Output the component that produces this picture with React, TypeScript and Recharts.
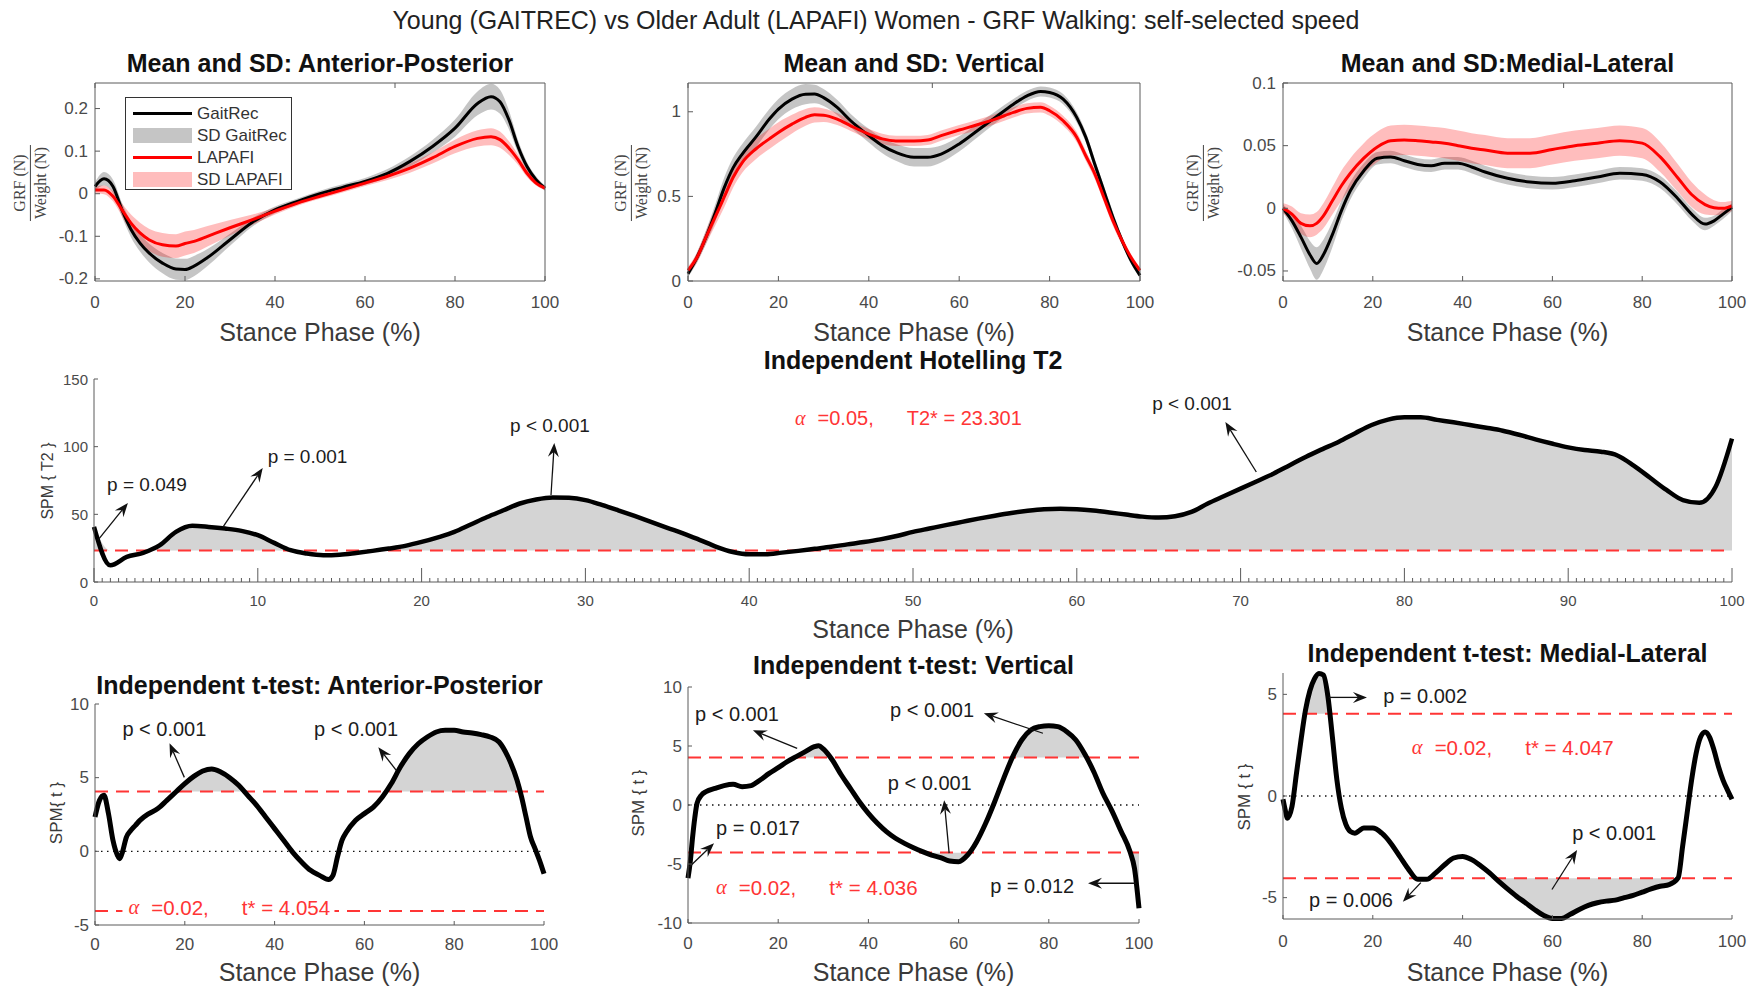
import React from 'react';
import { ComposedChart, Line, Area, XAxis, YAxis, ReferenceLine } from 'recharts';

const SANS = '"Liberation Sans", Arial, Helvetica, sans-serif';
const SERIF = '"Liberation Serif", "DejaVu Serif", "Times New Roman", serif';
const AXIS = '#5a5a5a';
const TICK_TXT = '#4a4a4a';
const RED = '#ff0000';
const NOTE_RED = '#ff3535';
const GAIT_BAND = '#a6a6a6';
const GAIT_BAND_OP = 0.65;
const LAP_BAND = '#ff0000';
const LAP_BAND_OP = 0.26;
const SPM_FILL = '#d4d4d4';

// ---- mean and SD of normalised GRF, anterior-posterior ----
const apX = [0, 2, 4, 6, 8, 10, 12, 15, 18, 20, 22, 25, 30, 35, 40, 45, 50, 55, 60, 65, 70, 75, 80, 85, 88, 90, 92, 94, 96, 98, 100];
const apGait = [0.017, 0.035, 0.017, -0.038, -0.084, -0.116, -0.139, -0.163, -0.177, -0.178, -0.17, -0.15, -0.108, -0.067, -0.038, -0.018, 0, 0.015, 0.029, 0.048, 0.076, 0.111, 0.154, 0.212, 0.228, 0.216, 0.173, 0.111, 0.064, 0.033, 0.013];
const apGaitSd = [0.01, 0.016, 0.016, 0.016, 0.018, 0.02, 0.022, 0.024, 0.025, 0.025, 0.024, 0.02, 0.014, 0.01, 0.008, 0.007, 0.007, 0.007, 0.008, 0.01, 0.012, 0.015, 0.02, 0.028, 0.03, 0.028, 0.022, 0.015, 0.01, 0.008, 0.006];
const apLap = [0.009, 0.009, -0.006, -0.038, -0.069, -0.092, -0.108, -0.12, -0.123, -0.117, -0.112, -0.1, -0.08, -0.061, -0.041, -0.022, -0.006, 0.009, 0.025, 0.041, 0.06, 0.084, 0.111, 0.13, 0.134, 0.127, 0.107, 0.08, 0.048, 0.025, 0.013];
const apLapSd = [0.008, 0.01, 0.012, 0.015, 0.02, 0.024, 0.026, 0.028, 0.028, 0.028, 0.027, 0.024, 0.018, 0.012, 0.008, 0.006, 0.006, 0.006, 0.007, 0.009, 0.011, 0.013, 0.016, 0.019, 0.02, 0.019, 0.016, 0.012, 0.009, 0.006, 0.005];

// ---- vertical ----
const vX = [0, 2, 4, 6, 8, 10, 12, 15, 18, 20, 23, 26, 28, 30, 33, 36, 40, 43, 46, 50, 53, 56, 60, 64, 68, 72, 75, 78, 80, 83, 86, 88, 90, 92, 94, 96, 98, 100];
const vGait = [0.043, 0.14, 0.26, 0.4, 0.55, 0.67, 0.75, 0.85, 0.957, 1.016, 1.075, 1.104, 1.105, 1.084, 1.026, 0.947, 0.859, 0.8, 0.76, 0.731, 0.731, 0.75, 0.81, 0.888, 0.967, 1.045, 1.094, 1.12, 1.114, 1.075, 0.967, 0.85, 0.69, 0.534, 0.377, 0.24, 0.122, 0.033];
const vGaitSd = [0.02, 0.03, 0.04, 0.05, 0.06, 0.06, 0.06, 0.06, 0.06, 0.06, 0.06, 0.06, 0.055, 0.05, 0.045, 0.04, 0.04, 0.045, 0.05, 0.055, 0.055, 0.05, 0.045, 0.04, 0.035, 0.03, 0.03, 0.03, 0.03, 0.03, 0.03, 0.03, 0.03, 0.03, 0.03, 0.025, 0.02, 0.015];
const vLap = [0.063, 0.14, 0.26, 0.377, 0.495, 0.613, 0.7, 0.78, 0.84, 0.878, 0.927, 0.967, 0.982, 0.98, 0.957, 0.917, 0.868, 0.84, 0.828, 0.828, 0.833, 0.859, 0.892, 0.923, 0.957, 0.996, 1.02, 1.026, 1.006, 0.947, 0.85, 0.74, 0.633, 0.495, 0.357, 0.24, 0.14, 0.063];
const vLapSd = [0.02, 0.03, 0.04, 0.05, 0.06, 0.06, 0.06, 0.06, 0.06, 0.06, 0.055, 0.05, 0.045, 0.04, 0.035, 0.03, 0.03, 0.03, 0.03, 0.03, 0.03, 0.03, 0.03, 0.03, 0.03, 0.03, 0.03, 0.03, 0.03, 0.03, 0.03, 0.03, 0.03, 0.03, 0.03, 0.025, 0.02, 0.015];

// ---- medial-lateral ----
const mlX = [0, 2, 4, 6, 7.5, 9, 11, 13, 15, 18, 21, 24, 27, 30, 33, 36, 39, 42, 45, 50, 55, 60, 65, 70, 75, 80, 84, 88, 91, 94, 96, 98, 100];
const mlGait = [0, -0.01, -0.023, -0.037, -0.044, -0.037, -0.021, -0.002, 0.014, 0.03, 0.04, 0.041, 0.038, 0.035, 0.034, 0.036, 0.036, 0.033, 0.029, 0.024, 0.021, 0.02, 0.022, 0.025, 0.028, 0.027, 0.021, 0.0075, -0.0046, -0.0126, -0.01, -0.0046, 0.0008];
const mlGaitSd = [0.003, 0.006, 0.009, 0.011, 0.013, 0.012, 0.01, 0.008, 0.007, 0.006, 0.005, 0.005, 0.005, 0.005, 0.005, 0.005, 0.005, 0.005, 0.005, 0.005, 0.005, 0.005, 0.005, 0.005, 0.005, 0.005, 0.005, 0.005, 0.005, 0.005, 0.004, 0.004, 0.003];
const mlLap = [0, -0.0046, -0.012, -0.014, -0.012, -0.006, 0.006, 0.018, 0.028, 0.04, 0.049, 0.054, 0.0546, 0.054, 0.053, 0.052, 0.05, 0.048, 0.0465, 0.044, 0.044, 0.047, 0.05, 0.052, 0.054, 0.052, 0.041, 0.024, 0.011, 0.003, 0.0005, 0, 0.002];
const mlLapSd = [0.004, 0.006, 0.008, 0.009, 0.009, 0.01, 0.011, 0.012, 0.012, 0.012, 0.012, 0.012, 0.012, 0.012, 0.012, 0.012, 0.012, 0.012, 0.012, 0.012, 0.012, 0.012, 0.012, 0.012, 0.012, 0.012, 0.012, 0.011, 0.01, 0.008, 0.006, 0.005, 0.004];

// ---- SPM{T2}, Hotelling test, one sample per percent of stance ----
const t2Val = [
  40.7, 12.3, 18.5, 21.5, 27, 37, 41.5, 40.7, 39.5, 37.8,
  34.6, 28.9, 23.5, 21, 19.8, 20.2, 21.5, 23, 24.7, 26.7,
  29.6, 33, 37, 42.5, 48, 53, 58, 61, 62.5, 62.2,
  60.5, 57, 53, 48.8, 44.4, 40, 35.8, 31, 26, 22.2,
  20.5, 20.5, 21.7, 23, 24.5, 26, 27.8, 29.5, 31.5, 34,
  37, 39.5, 42, 44.4, 46.8, 49, 51, 52.6, 53.8, 54.2,
  53.8, 52.8, 51.4, 49.8, 48.3, 47.6, 48.6, 51.8, 58, 63.5,
  69, 74.5, 80, 86.3, 92.6, 98.2, 103.7, 110, 116, 120,
  121.7, 121.7, 119.8, 118, 116, 114, 111.8, 108.8, 105.4, 102.3,
  99.5, 97.5, 96.3, 93.5, 86, 77, 68, 60.5, 58.5, 70.4,
  106,
];
const t2X = t2Val.map((_, i) => i);
const t2Crit = 23.301;

// ---- SPM{t}, post-hoc t-tests ----
const tApX = [0, 1, 2, 3, 4, 5, 5.5, 6, 7, 8, 9, 10, 12, 14, 16, 18, 20, 22, 24, 26, 28, 30, 32, 34, 36, 38, 40, 42, 44, 46, 48, 50, 52, 53, 54, 55, 56, 58, 60, 62, 64, 66, 68, 70, 72, 74, 76, 78, 80, 82, 84, 86, 88, 90, 92, 94, 95, 96, 97, 98, 99, 100];
const tApVal = [2.33, 3.46, 3.8, 2.56, 0.75, -0.27, -0.5, -0.16, 0.97, 1.43, 1.76, 2.1, 2.56, 2.9, 3.46, 4.03, 4.6, 5.09, 5.45, 5.59, 5.38, 5.0, 4.48, 3.8, 3.12, 2.33, 1.54, 0.75, -0.05, -0.72, -1.29, -1.63, -1.92, -1.63, -0.38, 0.75, 1.31, 2.1, 2.56, 3.0, 3.69, 4.6, 5.72, 6.63, 7.3, 7.76, 8.1, 8.21, 8.21, 8.1, 8.03, 7.92, 7.76, 7.42, 6.4, 4.82, 3.69, 2.33, 0.97, 0.18, -0.61, -1.52];
const tApCrit = 4.054;

const tVX = [0, 0.5, 1, 1.5, 2, 3, 4, 6, 8, 10, 12, 14, 16, 18, 20, 22, 24, 26, 28, 29, 30, 32, 34, 36, 38, 40, 42, 44, 46, 48, 50, 52, 54, 56, 58, 60, 62, 64, 66, 68, 70, 72, 74, 76, 78, 80, 82, 84, 86, 88, 90, 92, 94, 96, 98, 99, 100];
const tVVal = [-6.2, -4.8, -2.8, -1.1, 0.14, 0.85, 1.13, 1.41, 1.64, 1.75, 1.55, 1.64, 2.12, 2.68, 3.16, 3.67, 4.1, 4.52, 4.94, 5.03, 4.75, 3.81, 2.54, 1.41, 0.28, -0.71, -1.55, -2.26, -2.82, -3.25, -3.62, -3.95, -4.24, -4.46, -4.75, -4.8, -4.24, -3.11, -1.55, 0.28, 2.26, 4.1, 5.51, 6.36, 6.64, 6.72, 6.64, 6.21, 5.51, 4.3, 2.8, 1.0, -0.5, -2.2, -3.95, -5.37, -8.76];
const tVCrit = 4.036;

const tMlX = [0, 0.5, 1, 2, 3, 4, 5, 6, 7, 8, 9, 10, 11, 12, 13, 14, 15, 16, 17, 18, 20, 22, 24, 26, 28, 30, 32, 34, 36, 38, 40, 42, 44, 46, 48, 50, 52, 54, 56, 58, 60, 62, 64, 66, 68, 70, 72, 74, 76, 78, 80, 82, 84, 86, 88, 89, 90, 91, 92, 93, 94, 95, 96, 97, 98, 99, 100];
const tMlVal = [-0.16, -0.69, -1.09, -0.52, 1.11, 2.74, 4.21, 5.19, 5.76, 6.03, 5.95, 4.9, 2.9, 0.8, -0.6, -1.4, -1.75, -1.83, -1.7, -1.58, -1.58, -1.83, -2.32, -2.97, -3.62, -4.1, -4.1, -3.78, -3.38, -3.05, -2.97, -3.13, -3.43, -3.78, -4.19, -4.57, -4.93, -5.25, -5.58, -5.87, -6.03, -6.03, -5.82, -5.58, -5.38, -5.25, -5.17, -5.12, -5.0, -4.89, -4.73, -4.57, -4.44, -4.36, -4.03, -2.48, -0.85, 0.78, 2.09, 2.9, 3.15, 2.9, 2.25, 1.44, 0.78, 0.29, -0.16];
const tMlCrit = 4.047;

// ---- axis ticks ----
const stanceTicks = [0, 20, 40, 60, 80, 100];
const t2MajorTicks = [0, 10, 20, 30, 40, 50, 60, 70, 80, 90, 100];
const t2AllTicks = Array.from({ length: 201 }, (_, i) => i / 2);

// ---- cluster annotations: label position, arrow tail, arrow head (data units) ----
type Note = { text: string; at: [number, number]; tail?: [number, number]; head?: [number, number] };
const t2Notes: Note[] = [
  { text: 'p = 0.049', at: [0.8, 71.7], tail: [0.24, 31], head: [2.07, 58.4] },
  { text: 'p = 0.001', at: [10.6, 92.4], tail: [7.87, 40.6], head: [10.3, 84.2] },
  { text: 'p < 0.001', at: [25.4, 116], tail: [27.9, 64.3], head: [28.1, 102.7] },
  { text: 'p < 0.001', at: [64.6, 132], tail: [70.96, 81.3], head: [69.07, 118.2] },
];
const tApNotes: Note[] = [
  { text: 'p < 0.001', at: [6.1, 8.28], tail: [19.9, 5.02], head: [16.6, 7.33] },
  { text: 'p < 0.001', at: [48.8, 8.28], tail: [67.1, 5.5], head: [63.1, 7.06] },
];
const tVNotes: Note[] = [
  { text: 'p < 0.001', at: [1.55, 7.69], tail: [24.2, 4.8], head: [14.4, 6.33] },
  { text: 'p < 0.001', at: [44.8, 8.03], tail: [78.7, 6.08], head: [65.6, 7.77] },
  { text: 'p < 0.001', at: [44.3, 1.84], tail: [57.9, -4.08], head: [56.8, 0.4] },
  { text: 'p = 0.017', at: [6.2, -1.97], tail: [0.22, -5.27], head: [5.77, -3.24] },
  { text: 'p = 0.012', at: [67.0, -6.88], tail: [99.3, -6.63], head: [88.7, -6.63] },
];
const tMlNotes: Note[] = [
  { text: 'p = 0.002', at: [22.3, 4.9], tail: [10.2, 4.85], head: [18.7, 4.85] },
  { text: 'p < 0.001', at: [64.4, -1.81], tail: [59.9, -4.6], head: [65.5, -2.65] },
  { text: 'p = 0.006', at: [5.8, -5.1], tail: [30.7, -4.26], head: [26.7, -5.2] },
];

type Rect = { l: number; t: number; r: number; b: number };
const PAD = { left: 80, top: 14, right: 18, bottom: 44 };

// axes get a 1px band (a zero-sized axis is not drawn), taken out of the margin
function frame(plot: Rect, boxed: boolean) {
  return {
    style: { position: 'absolute' as const, left: plot.l - PAD.left, top: plot.t - PAD.top },
    width: plot.r - plot.l + PAD.left + PAD.right,
    height: plot.b - plot.t + PAD.top + PAD.bottom,
    margin: {
      left: PAD.left - 1,
      top: PAD.top - (boxed ? 1 : 0),
      right: PAD.right - (boxed ? 1 : 0),
      bottom: PAD.bottom - 1,
    },
  };
}

// inward tick marks drawn by hand, labels optional
const bottomTick = (len: number, dy: number, size: number, isMajor: (v: number) => boolean = () => true, minorLen = 0) =>
  (p: any) => {
    const v = p.payload.value;
    const major = isMajor(v);
    return (
      <g>
        <line x1={p.x} x2={p.x} y1={p.y} y2={p.y - (major ? len : minorLen)} stroke={AXIS} strokeWidth={1} />
        {major && (
          <text x={p.x} y={p.y + dy} textAnchor="middle" dominantBaseline="central" fontSize={size} fontFamily={SANS} fill={TICK_TXT}>
            {String(v)}
          </text>
        )}
      </g>
    );
  };
const leftTick = (len: number, gap: number, size: number) => (p: any) => (
  <g>
    <line x1={p.x} x2={p.x + len} y1={p.y} y2={p.y} stroke={AXIS} strokeWidth={1} />
    <text x={p.x - gap} y={p.y} textAnchor="end" dominantBaseline="central" fontSize={size} fontFamily={SANS} fill={TICK_TXT}>
      {String(p.payload.value)}
    </text>
  </g>
);
const topTick = (len: number) => (p: any) => (
  <line x1={p.x} x2={p.x} y1={p.y} y2={p.y + len} stroke={AXIS} strokeWidth={1} />
);
const rightTick = (len: number) => (p: any) => (
  <line x1={p.x} x2={p.x - len} y1={p.y} y2={p.y} stroke={AXIS} strokeWidth={1} />
);

const arrowShape = (p: any) => {
  const { x1, y1, x2, y2 } = p;
  const a = Math.atan2(y2 - y1, x2 - x1);
  const c = Math.cos(a);
  const s = Math.sin(a);
  const len = 14;
  const half = 5.5;
  const notch = 9;
  const bx = x2 - len * c;
  const by = y2 - len * s;
  const pts = [
    [x2, y2],
    [bx - half * s, by + half * c],
    [x2 - notch * c, y2 - notch * s],
    [bx + half * s, by - half * c],
  ]
    .map((q) => q.join(','))
    .join(' ');
  return (
    <g>
      <line x1={x1} y1={y1} x2={x2 - notch * c} y2={y2 - notch * s} stroke="#111" strokeWidth={1.3} />
      <polygon points={pts} fill="#111" />
    </g>
  );
};

const noteShape = (text: string, size: number) => (p: any) => (
  <text x={p.x1} y={p.y1} dominantBaseline="central" fontSize={size} fontFamily={SANS} fill="#1c1c1c">
    {text}
  </text>
);

const statShape = (alpha: string, name: string, value: number, size: number, bg: number) => (p: any) => (
  <g>
    {bg > 0 && <rect x={p.x1 - 6} y={p.y1 - size * 0.6} width={bg} height={size * 1.2} fill="#fff" />}
    <text x={p.x1} y={p.y1} dominantBaseline="central" fontSize={size} fontFamily={SANS} fill={NOTE_RED}>
      <tspan fontFamily={SERIF} fontStyle="italic">α</tspan>
      <tspan dx={12}>={alpha},</tspan>
      <tspan dx={33}>
        {name} = {value.toFixed(3)}
      </tspan>
    </text>
  </g>
);

function MeanPanel(props: {
  plot: Rect;
  xs: number[];
  gait: number[];
  gaitSd: number[];
  lap: number[];
  lapSd: number[];
  yDomain: [number, number];
  yTicks: number[];
}) {
  const { plot, xs, gait, gaitSd, lap, lapSd, yDomain, yTicks } = props;
  const data = xs.map((x, i) => ({
    x,
    gait: gait[i],
    lap: lap[i],
    gaitBand: [gait[i] - gaitSd[i], gait[i] + gaitSd[i]],
    lapBand: [lap[i] - lapSd[i], lap[i] + lapSd[i]],
  }));
  const f = frame(plot, true);
  return (
    <div style={f.style}>
      <ComposedChart width={f.width} height={f.height} data={data} margin={f.margin}>
        <XAxis dataKey="x" type="number" domain={[0, 100]} ticks={stanceTicks} interval={0} height={1} tickSize={0} tickMargin={0} tickLine={false} axisLine={{ stroke: AXIS }} tick={bottomTick(5, 21, 17)} />
        <XAxis xAxisId="top" orientation="top" type="number" domain={[0, 100]} ticks={stanceTicks} interval={0} height={1} tickSize={0} tickMargin={0} tickLine={false} axisLine={{ stroke: AXIS }} tick={topTick(5)} />
        <YAxis type="number" domain={yDomain} ticks={yTicks} interval={0} width={1} tickSize={0} tickMargin={0} tickLine={false} axisLine={{ stroke: AXIS }} tick={leftTick(5, 7, 17)} />
        <YAxis yAxisId="right" orientation="right" type="number" domain={yDomain} ticks={yTicks} interval={0} width={1} tickSize={0} tickMargin={0} tickLine={false} axisLine={{ stroke: AXIS }} tick={rightTick(5)} />
        <Area dataKey="gaitBand" name="SD GaitRec" type="monotone" stroke="none" fill={GAIT_BAND} fillOpacity={GAIT_BAND_OP} dot={false} activeDot={false} isAnimationActive={false} />
        <Area dataKey="lapBand" name="SD LAPAFI" type="monotone" stroke="none" fill={LAP_BAND} fillOpacity={LAP_BAND_OP} dot={false} activeDot={false} isAnimationActive={false} />
        <Line dataKey="gait" name="GaitRec" type="monotone" stroke="#000" strokeWidth={3} dot={false} activeDot={false} isAnimationActive={false} />
        <Line dataKey="lap" name="LAPAFI" type="monotone" stroke={RED} strokeWidth={3} dot={false} activeDot={false} isAnimationActive={false} />
      </ComposedChart>
    </div>
  );
}

function SpmPanel(props: {
  plot: Rect;
  xs: number[];
  vals: number[];
  yDomain: [number, number];
  yTicks: number[];
  crit: number;
  twoSided: boolean;
  notes: Note[];
  stat: { at: [number, number]; alpha: string; name: string; bg: number };
  xTicks: number[];
  isMajor?: (v: number) => boolean;
  majorLen: number;
  minorLen?: number;
  tickFont: number;
  tickDy: number;
  noteFont: number;
  statFont: number;
  curveWidth: number;
}) {
  const { plot, xs, vals, yDomain, yTicks, crit, twoSided, notes, stat, xTicks, isMajor, majorLen, minorLen = 0, tickFont, tickDy, noteFont, statFont, curveWidth } = props;
  const data = xs.map((x, i) => {
    const v = vals[i];
    return { x, v, up: [crit, Math.max(v, crit)], dn: [Math.min(v, -crit), -crit] };
  });
  const f = frame(plot, false);
  return (
    <div style={f.style}>
      <ComposedChart width={f.width} height={f.height} data={data} margin={f.margin}>
        <XAxis dataKey="x" type="number" domain={[0, 100]} ticks={xTicks} interval={0} height={1} tickSize={0} tickMargin={0} tickLine={false} axisLine={{ stroke: AXIS }} tick={bottomTick(majorLen, tickDy, tickFont, isMajor, minorLen)} />
        <YAxis type="number" domain={yDomain} ticks={yTicks} interval={0} width={1} tickSize={0} tickMargin={0} tickLine={false} axisLine={{ stroke: AXIS }} tick={leftTick(4, 6, tickFont)} />
        <Area dataKey="up" type="monotone" stroke="none" fill={SPM_FILL} fillOpacity={1} dot={false} activeDot={false} isAnimationActive={false} />
        {twoSided && <Area dataKey="dn" type="monotone" stroke="none" fill={SPM_FILL} fillOpacity={1} dot={false} activeDot={false} isAnimationActive={false} />}
        {twoSided && <ReferenceLine y={0} stroke="#111" strokeWidth={1.3} strokeDasharray="1.5 4.5" />}
        <ReferenceLine y={crit} stroke={NOTE_RED} strokeWidth={2} strokeDasharray="13 8" />
        {twoSided && <ReferenceLine y={-crit} stroke={NOTE_RED} strokeWidth={2} strokeDasharray="13 8" />}
        <Line dataKey="v" type="monotone" stroke="#000" strokeWidth={curveWidth} strokeLinejoin="round" dot={false} activeDot={false} isAnimationActive={false} />
        <ReferenceLine
          segment={[{ x: stat.at[0], y: stat.at[1] }, { x: stat.at[0], y: stat.at[1] }]}
          ifOverflow="visible"
          shape={statShape(stat.alpha, stat.name, crit, statFont, stat.bg)}
        />
        {notes.map((n, i) => (
          <React.Fragment key={i}>
            {n.tail && n.head && (
              <ReferenceLine segment={[{ x: n.tail[0], y: n.tail[1] }, { x: n.head[0], y: n.head[1] }]} ifOverflow="visible" shape={arrowShape} />
            )}
            <ReferenceLine segment={[{ x: n.at[0], y: n.at[1] }, { x: n.at[0], y: n.at[1] }]} ifOverflow="visible" shape={noteShape(n.text, noteFont)} />
          </React.Fragment>
        ))}
      </ComposedChart>
    </div>
  );
}

function Txt(props: { x: number; y: number; size: number; bold?: boolean; color?: string; rotate?: boolean; children: React.ReactNode }) {
  const { x, y, size, bold, color = '#333', rotate, children } = props;
  return (
    <div
      style={{
        position: 'absolute',
        left: x,
        top: y,
        transform: rotate ? 'translate(-50%, -50%) rotate(-90deg)' : 'translate(-50%, -50%)',
        whiteSpace: 'nowrap',
        fontSize: size,
        fontWeight: bold ? 700 : 400,
        color,
        lineHeight: 1,
        fontFamily: SANS,
      }}
    >
      {children}
    </div>
  );
}

function Fraction({ x, y }: { x: number; y: number }) {
  return (
    <div
      style={{
        position: 'absolute',
        left: x,
        top: y,
        transform: 'translate(-50%, -50%) rotate(-90deg)',
        fontFamily: SERIF,
        fontSize: 16,
        color: '#444',
        textAlign: 'center',
        lineHeight: 1.1,
        whiteSpace: 'nowrap',
      }}
    >
      <div style={{ padding: '0 2px 1px' }}>GRF (N)</div>
      <div style={{ borderTop: '1.2px solid #444', padding: '1px 2px 0' }}>Weight (N)</div>
    </div>
  );
}

const legendItems = [
  { label: 'GaitRec', kind: 'line', color: '#000', opacity: 1 },
  { label: 'SD GaitRec', kind: 'patch', color: GAIT_BAND, opacity: GAIT_BAND_OP },
  { label: 'LAPAFI', kind: 'line', color: RED, opacity: 1 },
  { label: 'SD LAPAFI', kind: 'patch', color: LAP_BAND, opacity: LAP_BAND_OP },
];

function MeanLegend() {
  return (
    <div style={{ position: 'absolute', left: 125, top: 97, width: 167, height: 93, border: '1.2px solid #333', background: '#fff', boxSizing: 'border-box' }}>
      {legendItems.map((it, i) => (
        <div key={it.label} style={{ position: 'absolute', left: 0, top: 5 + i * 22, height: 20, width: '100%' }}>
          <div
            style={{
              position: 'absolute',
              left: 7,
              width: 59,
              top: it.kind === 'line' ? 8.5 : 2.5,
              height: it.kind === 'line' ? 3 : 15,
              background: it.color,
              opacity: it.opacity,
            }}
          />
          <div style={{ position: 'absolute', left: 71, top: 1, fontSize: 17, color: '#333', fontFamily: SANS, whiteSpace: 'nowrap' }}>{it.label}</div>
        </div>
      ))}
    </div>
  );
}

const P1: Rect = { l: 95, t: 83, r: 545, b: 281 };
const P2: Rect = { l: 688, t: 83, r: 1140, b: 281 };
const P3: Rect = { l: 1283, t: 83, r: 1732, b: 281 };
const PM: Rect = { l: 94, t: 379, r: 1732, b: 582 };
const B1: Rect = { l: 95, t: 704, r: 544, b: 925 };
const B2: Rect = { l: 688, t: 687, r: 1139, b: 923 };
const B3: Rect = { l: 1283, t: 673, r: 1732, b: 919 };

const mid = (p: Rect) => (p.l + p.r) / 2;

export default function App() {
  return (
    <div style={{ position: 'absolute', left: 0, top: 0, width: 1757, height: 987, background: '#fff', overflow: 'hidden' }}>
      <Txt x={876} y={20} size={25} color="#222">
        Young (GAITREC) vs Older Adult (LAPAFI) Women - GRF Walking: self-selected speed
      </Txt>

      <MeanPanel plot={P1} xs={apX} gait={apGait} gaitSd={apGaitSd} lap={apLap} lapSd={apLapSd} yDomain={[-0.205, 0.26]} yTicks={[-0.2, -0.1, 0, 0.1, 0.2]} />
      <MeanPanel plot={P2} xs={vX} gait={vGait} gaitSd={vGaitSd} lap={vLap} lapSd={vLapSd} yDomain={[0, 1.17]} yTicks={[0, 0.5, 1]} />
      <MeanPanel plot={P3} xs={mlX} gait={mlGait} gaitSd={mlGaitSd} lap={mlLap} lapSd={mlLapSd} yDomain={[-0.058, 0.1]} yTicks={[-0.05, 0, 0.05, 0.1]} />
      <MeanLegend />

      <SpmPanel
        plot={PM}
        xs={t2X}
        vals={t2Val}
        yDomain={[0, 150]}
        yTicks={[0, 50, 100, 150]}
        crit={t2Crit}
        twoSided={false}
        notes={t2Notes}
        stat={{ at: [42.8, 121.2], alpha: '0.05', name: 'T2*', bg: 0 }}
        xTicks={t2AllTicks}
        isMajor={(v) => t2MajorTicks.includes(v)}
        majorLen={14}
        minorLen={4}
        tickFont={15}
        tickDy={18}
        noteFont={19}
        statFont={20}
        curveWidth={4.5}
      />
      <SpmPanel
        plot={B1}
        xs={tApX}
        vals={tApVal}
        yDomain={[-5, 10]}
        yTicks={[-5, 0, 5, 10]}
        crit={tApCrit}
        twoSided
        notes={tApNotes}
        stat={{ at: [7.45, -3.75], alpha: '0.02', name: 't*', bg: 212 }}
        xTicks={stanceTicks}
        majorLen={4}
        tickFont={17}
        tickDy={19}
        noteFont={20}
        statFont={20.5}
        curveWidth={5}
      />
      <SpmPanel
        plot={B2}
        xs={tVX}
        vals={tVVal}
        yDomain={[-10, 10]}
        yTicks={[-10, -5, 0, 5, 10]}
        crit={tVCrit}
        twoSided
        notes={tVNotes}
        stat={{ at: [6.2, -6.95], alpha: '0.02', name: 't*', bg: 0 }}
        xTicks={stanceTicks}
        majorLen={4}
        tickFont={17}
        tickDy={20}
        noteFont={20}
        statFont={20.5}
        curveWidth={5}
      />
      <SpmPanel
        plot={B3}
        xs={tMlX}
        vals={tMlVal}
        yDomain={[-6.05, 6.05]}
        yTicks={[-5, 0, 5]}
        crit={tMlCrit}
        twoSided
        notes={tMlNotes}
        stat={{ at: [28.7, 2.4], alpha: '0.02', name: 't*', bg: 0 }}
        xTicks={stanceTicks}
        majorLen={4}
        tickFont={17}
        tickDy={22}
        noteFont={20}
        statFont={20.5}
        curveWidth={5}
      />

      <Txt x={mid(P1)} y={63} size={25} bold color="#111">Mean and SD: Anterior-Posterior</Txt>
      <Txt x={mid(P2)} y={63} size={25} bold color="#111">Mean and SD: Vertical</Txt>
      <Txt x={mid(P3)} y={63} size={25} bold color="#111">Mean and SD:Medial-Lateral</Txt>
      <Txt x={913} y={360} size={25} bold color="#111">Independent Hotelling T2</Txt>
      <Txt x={mid(B1)} y={685} size={25} bold color="#111">Independent t-test: Anterior-Posterior</Txt>
      <Txt x={mid(B2)} y={665} size={25} bold color="#111">Independent t-test: Vertical</Txt>
      <Txt x={mid(B3)} y={653} size={25} bold color="#111">Independent t-test: Medial-Lateral</Txt>

      <Txt x={mid(P1)} y={332} size={25} color="#3a3a3a">Stance Phase (%)</Txt>
      <Txt x={mid(P2)} y={332} size={25} color="#3a3a3a">Stance Phase (%)</Txt>
      <Txt x={mid(P3)} y={332} size={25} color="#3a3a3a">Stance Phase (%)</Txt>
      <Txt x={913} y={629} size={25} color="#3a3a3a">Stance Phase (%)</Txt>
      <Txt x={mid(B1)} y={972} size={25} color="#3a3a3a">Stance Phase (%)</Txt>
      <Txt x={mid(B2)} y={972} size={25} color="#3a3a3a">Stance Phase (%)</Txt>
      <Txt x={mid(B3)} y={972} size={25} color="#3a3a3a">Stance Phase (%)</Txt>

      <Fraction x={30} y={183} />
      <Fraction x={631} y={183} />
      <Fraction x={1203} y={183} />

      <Txt x={48} y={481} size={16} rotate color="#3a3a3a">SPM {'{'} T2 {'}'}</Txt>
      <Txt x={56} y={813} size={17} rotate color="#3a3a3a">SPM{'{'} t {'}'}</Txt>
      <Txt x={638} y={803} size={17} rotate color="#3a3a3a">SPM {'{'} t {'}'}</Txt>
      <Txt x={1244} y={797} size={17} rotate color="#3a3a3a">SPM {'{'} t {'}'}</Txt>
    </div>
  );
}
